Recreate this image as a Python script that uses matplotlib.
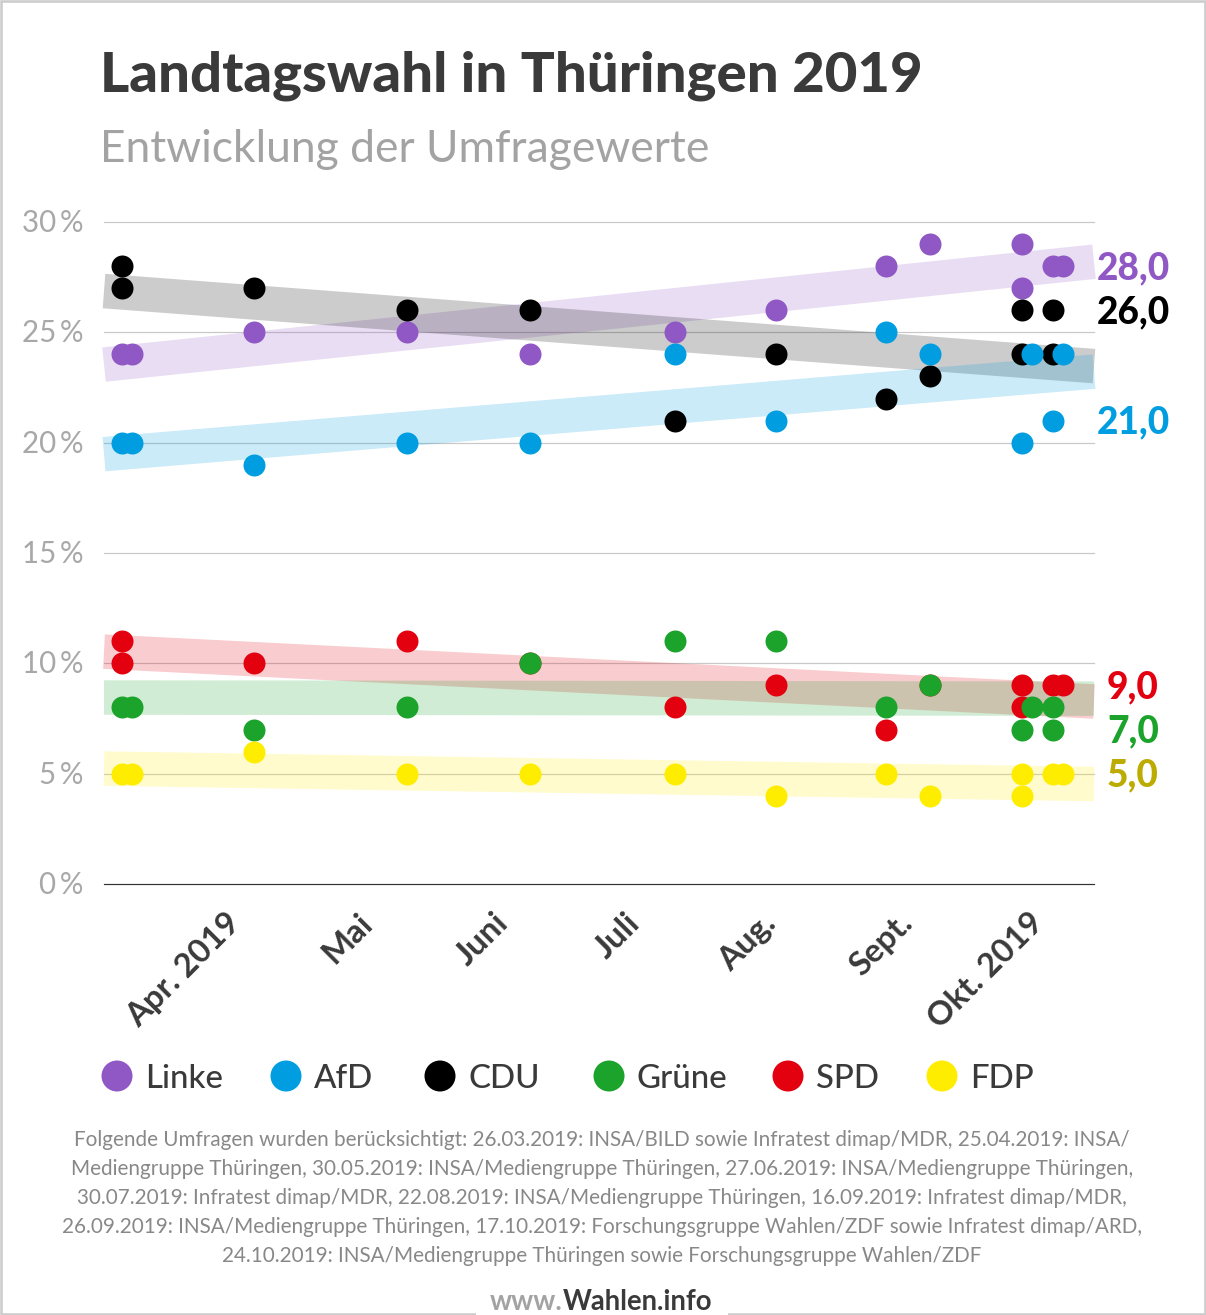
import matplotlib
matplotlib.use("Agg")
import matplotlib.pyplot as plt
from matplotlib.patches import Circle, Rectangle
from matplotlib.transforms import ScaledTranslation
from datetime import date

plt.rcParams['font.family'] = ['Lato', 'DejaVu Sans']

W, H, DPI = 1206, 1315, 100
PX = 72 / DPI

START = date(2019, 3, 26)
def day(m, d):
    return (date(2019, m, d) - START).days

# poll dates (days since 26.03.2019); J = second poll drawn beside the first
J = 2.3
base_x = [day(4, 25), day(5, 30), day(6, 27), day(7, 30), day(8, 22), day(9, 16), day(9, 26)]
a, b, c = day(3, 26), day(10, 17), day(10, 24)

linke_x = [a, a + J] + base_x + [b, b, c, c + J]
linke = [24, 24, 25, 25, 24, 25, 26, 28, 29, 29, 27, 28, 28]
afd_x = [a, a + J] + base_x + [b, b + J, c, c + J]
afd = [20, 20, 19, 20, 20, 24, 21, 25, 24, 20, 24, 21, 24]
cdu_x = [a, a] + base_x + [b, b, c, c]
cdu = [28, 27, 27, 26, 26, 21, 24, 22, 23, 26, 24, 26, 24]
gruene_x = [a, a + J] + base_x + [b, b + J, c, c]
gruene = [8, 8, 7, 8, 10, 11, 11, 8, 9, 7, 8, 8, 7]
spd_x = [a, a] + base_x + [b, b, c, c + J]
spd = [11, 10, 10, 11, 10, 8, 9, 7, 9, 9, 8, 9, 9]
fdp_x = [a, a + J] + base_x + [b, b, c, c + J]
fdp = [5, 5, 6, 5, 5, 5, 4, 5, 4, 5, 4, 5, 5]

# trend bands: value at left and right edge of the plot
trend_linke = (23.54, 28.20)
trend_cdu = (26.87, 23.47)
trend_afd = (19.48, 23.22)
trend_spd = (10.53, 8.27)
trend_gruene = (8.45, 8.40)
trend_fdp = (5.23, 4.53)

# latest values at right
final_labels = ["28,0", "26,0", "21,0", "9,0", "7,0", "5,0"]
final_values = [28, 26, 21, 9, 7, 5]
final_colors = ["#9058c4", "#000000", "#009ee0", "#e3000f", "#1ba32c", "#bcab00"]

month_labels = ["Apr. 2019", "Mai", "Juni", "Juli", "Aug.", "Sept.", "Okt. 2019"]
month_pos = [day(4, 1), day(5, 1), day(6, 1), day(7, 1), day(8, 1), day(9, 1), day(10, 1)]
LABEL_SHIFT = 17.6  # month labels end right of the month start

y_ticks = [0, 5, 10, 15, 20, 25, 30]
y_labels = ["0\u2009%", "5\u2009%", "10\u2009%", "15\u2009%", "20\u2009%", "25\u2009%", "30\u2009%"]

series = [
    ("Linke", linke_x, linke, trend_linke, "#9058c4"),
    ("CDU", cdu_x, cdu, trend_cdu, "#000000"),
    ("AfD", afd_x, afd, trend_afd, "#009ee0"),
    ("SPD", spd_x, spd, trend_spd, "#e3000f"),
    ("Grüne", gruene_x, gruene, trend_gruene, "#1ba32c"),
    ("FDP", fdp_x, fdp, trend_fdp, "#ffed00"),
]

legend_names = ["Linke", "AfD", "CDU", "Grüne", "SPD", "FDP"]
legend_colors = ["#9058c4", "#009ee0", "#000000", "#1ba32c", "#e3000f", "#ffed00"]
legend_x = [117, 286, 440, 609, 788, 942]

footnote = [
    "Folgende Umfragen wurden berücksichtigt: 26.03.2019: INSA/BILD sowie Infratest dimap/MDR, 25.04.2019: INSA/",
    "Mediengruppe Thüringen, 30.05.2019: INSA/Mediengruppe Thüringen, 27.06.2019: INSA/Mediengruppe Thüringen,",
    "30.07.2019: Infratest dimap/MDR, 22.08.2019: INSA/Mediengruppe Thüringen, 16.09.2019: Infratest dimap/MDR,",
    "26.09.2019: INSA/Mediengruppe Thüringen, 17.10.2019: Forschungsgruppe Wahlen/ZDF sowie Infratest dimap/ARD,",
    "24.10.2019: INSA/Mediengruppe Thüringen sowie Forschungsgruppe Wahlen/ZDF",
]

fig = plt.figure(figsize=(W / DPI, H / DPI), dpi=DPI, facecolor="white")

# overlay in pixel coordinates for page furniture
pg = fig.add_axes([0, 0, 1, 1], zorder=0)
pg.set_xlim(0, W); pg.set_ylim(H, 0); pg.axis("off")
pg.add_patch(Rectangle((1, 1), W - 2, H - 2, fill=False, ec="#cccccc", lw=2.6 * PX))
pg.add_patch(Rectangle((476, H - 6), 252, 6, fc="white", ec="none", zorder=3))

pg.text(100, 76, "Landtagswahl in Thüringen 2019", fontsize=56.3 * PX, fontweight="black",
        color="#3a3a3a", va="center", ha="left")
pg.text(100, 149, "Entwicklung der Umfragewerte", fontsize=44.4 * PX, color="#a3a3a3",
        va="center", ha="left")

for name, col, lx in zip(legend_names, legend_colors, legend_x):
    pg.add_patch(Circle((lx, 1076), 15.5, fc=col, ec="none"))
    pg.text(lx + 28, 1078.5, name, fontsize=33 * PX, color="#3a3a3a", fontweight="medium",
            va="center", ha="left")

for i, line in enumerate(footnote):
    pg.text(602, 1140 + 29 * i, line, fontsize=20.6 * PX, color="#888888", va="center", ha="center")

t = pg.text(490, 1302, "www.", fontsize=27.5 * PX, fontweight="bold", color="#a3a3a3",
            va="center", ha="left", zorder=4)
fig.canvas.draw()
bb = t.get_window_extent()
pg.text(bb.x1, 1302, "Wahlen.info", fontsize=27.5 * PX, fontweight="bold", color="#3a3a3a",
        va="center", ha="left", zorder=4)

ax = fig.add_axes([104 / W, (H - 884) / H, (1094 - 104) / W, (884 - 222) / H], zorder=1)
ax.patch.set_alpha(0)
PX_PER_DAY = 4.39
x0 = -(122 - 104) / PX_PER_DAY
x1 = (1094 - 122) / PX_PER_DAY
ax.set_xlim(x0, x1)
ax.set_ylim(0, 30)
for s in ax.spines.values():
    s.set_visible(False)

ax.set_yticks(y_ticks)
ax.set_yticklabels(y_labels, fontsize=29.5 * PX, color="#a8a8a8")
ax.tick_params(axis="y", length=0, pad=21 * PX)
for v in y_ticks:
    ax.axhline(v, color="#333333" if v == 0 else "#c8c8c8", lw=1.2 * PX, zorder=1, clip_on=False)
for lab in ax.get_yticklabels():
    lab.set_transform(lab.get_transform() + ScaledTranslation(0, 1.5 / DPI, fig.dpi_scale_trans))

ax.set_xticks([m + LABEL_SHIFT for m in month_pos])
ax.set_xticklabels(month_labels, rotation=45, ha="right", rotation_mode="anchor",
                   fontsize=33 * PX, fontweight="bold", color="#3a3a3a")
ax.tick_params(axis="x", length=0, pad=24 * PX)

for name, xs, ys, tr, col in series:
    ax.plot([x0, x1], tr, color=col, alpha=0.2, lw=34.5 * PX, solid_capstyle="butt",
            zorder=2, clip_on=False)
for i, (name, xs, ys, tr, col) in enumerate(series):
    ax.scatter(xs, ys, s=(22 * PX) ** 2, color=col, linewidths=0, zorder=3 + i, clip_on=False)

for lab, v, col in zip(final_labels, final_values, final_colors):
    ax.annotate(lab, xy=(1, v), xycoords=("axes fraction", "data"), xytext=(39 * PX, -2 * PX),
                textcoords="offset points", ha="center", va="center",
                fontsize=37 * PX, fontweight="black", color=col)

fig.savefig("out.png", dpi=DPI)
